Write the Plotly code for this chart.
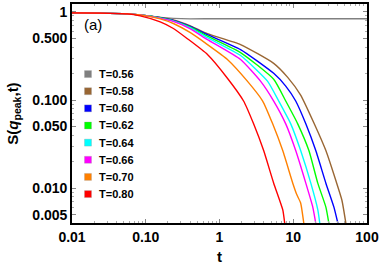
import plotly.graph_objects as go

# ---------------- data ----------------
temps = ["T=0.56", "T=0.58", "T=0.60", "T=0.62", "T=0.64", "T=0.66", "T=0.70", "T=0.80"]
colors = ["#808080", "#996633", "#0000FF", "#00FF00", "#00FFFF", "#FF00FF", "#FF8000", "#FF0000"]

t_056 = [0.01, 0.024, 0.056, 0.084, 0.157, 0.237, 0.403, 1, 3, 10, 30, 100]
s_056 = [0.975, 0.969, 0.950, 0.925, 0.867, 0.845, 0.834, 0.838, 0.838, 0.838, 0.838, 0.838]

t_058 = [0.01, 0.024, 0.056, 0.084, 0.157, 0.237, 0.403, 0.687, 1.93, 5.43, 8.41, 12.6, 19.0, 27.7, 37.8, 45.7, 51.7]
s_058 = [0.975, 0.969, 0.950, 0.925, 0.867, 0.813, 0.696, 0.566, 0.426, 0.261, 0.181, 0.114, 0.0553, 0.0267, 0.0122, 0.0073, 0.0040]

t_060 = [0.01, 0.024, 0.056, 0.084, 0.157, 0.237, 0.403, 0.687, 1.93, 5.43, 7.91, 10.8, 14.8, 20.2, 27.7, 35.6, 40.3]
s_060 = [0.975, 0.969, 0.950, 0.925, 0.861, 0.803, 0.687, 0.552, 0.374, 0.201, 0.144, 0.0975, 0.0537, 0.0267, 0.0114, 0.0061, 0.0040]

t_062 = [0.01, 0.024, 0.056, 0.084, 0.157, 0.237, 0.403, 0.687, 1.93, 5.43, 7.91, 11.5, 16.3, 21.5, 27.7, 30.4]
s_062 = [0.975, 0.969, 0.950, 0.925, 0.856, 0.792, 0.670, 0.530, 0.346, 0.172, 0.0975, 0.0537, 0.0267, 0.0114, 0.0061, 0.0040]

t_064 = [0.01, 0.024, 0.056, 0.084, 0.157, 0.237, 0.403, 0.687, 1.93, 4.50, 6.35, 9.25, 12.6, 17.3, 21.5, 22.9]
s_064 = [0.975, 0.969, 0.950, 0.925, 0.850, 0.788, 0.661, 0.510, 0.320, 0.163, 0.0975, 0.0537, 0.0267, 0.0114, 0.0057, 0.0040]

t_066 = [0.01, 0.024, 0.056, 0.084, 0.157, 0.237, 0.403, 0.687, 1.93, 3.62, 5.43, 7.91, 10.8, 14.8, 18.4, 20.2]
s_066 = [0.975, 0.969, 0.950, 0.925, 0.845, 0.782, 0.644, 0.485, 0.289, 0.163, 0.0975, 0.0537, 0.0267, 0.0114, 0.0061, 0.0040]

t_070 = [0.01, 0.024, 0.056, 0.084, 0.157, 0.237, 0.403, 0.687, 1.28, 2.40, 3.85, 5.26, 7.20, 9.85, 11.2, 12.6, 13.9]
s_070 = [0.975, 0.969, 0.950, 0.925, 0.834, 0.739, 0.581, 0.426, 0.289, 0.163, 0.0975, 0.0537, 0.0267, 0.0114, 0.0084, 0.0068, 0.0040]

t_080 = [0.01, 0.024, 0.056, 0.084, 0.157, 0.237, 0.367, 0.687, 1.28, 2.12, 2.90, 3.97, 5.43, 7.20, 7.66]
s_080 = [0.975, 0.969, 0.950, 0.901, 0.772, 0.649, 0.497, 0.329, 0.177, 0.0975, 0.0537, 0.0267, 0.0114, 0.0057, 0.0040]

series_t = [t_056, t_058, t_060, t_062, t_064, t_066, t_070, t_080]
series_s = [s_056, s_058, s_060, s_062, s_064, s_066, s_070, s_080]

x_tickvals = [0.01, 0.1, 1, 10, 100]
x_ticktext = ["0.01", "0.10", "1", "10", "100"]
y_tickvals = [0.005, 0.01, 0.05, 0.1, 0.5, 1]
y_ticktext = ["0.005", "0.010", "0.050", "0.100", "0.500", "1"]

# ---------------- figure ----------------
W, H = 381, 269
ML, MR, MT, MB = 72, 14, 2, 46
PW, PH = W - ML - MR, H - MT - MB

fig = go.Figure()

for name, col, tt, ss in zip(temps, colors, series_t, series_s):
    fig.add_trace(go.Scatter(x=tt, y=ss, mode="lines", name=name,
                             line=dict(color=col, width=1.4, shape="spline", smoothing=0.5),
                             showlegend=False, hoverinfo="skip"))

FONT = "Liberation Sans, Arial, sans-serif"

# legend drawn inside the frame: colour squares + bold labels
leg_x0, leg_y0, leg_dy, sq = 88, 72.7, 17.3, 7   # pixel layout of the legend block
for i, (name, col) in enumerate(zip(temps, colors)):
    cy = leg_y0 + i * leg_dy
    px = (leg_x0 - ML) / PW
    py = 1 - (cy - MT) / PH
    hx, hy = sq / 2 / PW, sq / 2 / PH
    fig.add_shape(type="rect", xref="paper", yref="paper",
                  x0=px - hx, x1=px + hx, y0=py - hy, y1=py + hy,
                  fillcolor=col, line=dict(color="rgba(150,150,150,0.6)", width=0.5))
    fig.add_annotation(text="<b>" + name + "</b>", xref="paper", yref="paper",
                       x=(leg_x0 + 8.5 - ML) / PW, y=py, xanchor="left", yanchor="middle",
                       showarrow=False, font=dict(family=FONT, size=11, color="black"))

axis_common = dict(
    type="log", showgrid=False, zeroline=False,
    showline=True, linecolor="black", linewidth=1.6, mirror="ticks",
    ticks="inside", ticklen=4, tickcolor="#888888", tickwidth=1,
    tickfont=dict(family=FONT, size=14, color="black", weight="bold"),
    ticklabeloverflow="allow",
    minor=dict(ticks="inside", ticklen=2, tickcolor="#aaaaaa", dtick="D1", showgrid=False),
)

fig.update_xaxes(**axis_common, range=[-2, 2],
                 tickvals=x_tickvals, ticktext=x_ticktext,
                 title=dict(text="<b>t</b>", font=dict(family=FONT, size=15, color="black"),
                            standoff=8))
fig.update_yaxes(**axis_common, range=[-2.395, 0.09],
                 tickvals=y_tickvals, ticktext=y_ticktext,
                 automargin=True,
                 title=dict(text="<b>S(<i>q</i><sub>peak</sub>,t)</b>",
                            font=dict(family=FONT, size=15, color="black"),
                            standoff=10))

fig.add_annotation(text="(a)", xref="paper", yref="paper", x=0.035, y=0.905,
                   xanchor="left", yanchor="middle", showarrow=False,
                   font=dict(family=FONT, size=15, color="black"))

fig.update_layout(
    width=W, height=H,
    margin=dict(l=ML, r=MR, t=MT, b=MB),
    paper_bgcolor="white", plot_bgcolor="white",
    showlegend=False,
)

fig.write_html("out.html", config={"displayModeBar": False},
               post_script="document.body.style.margin='0';document.body.style.padding='0';")
